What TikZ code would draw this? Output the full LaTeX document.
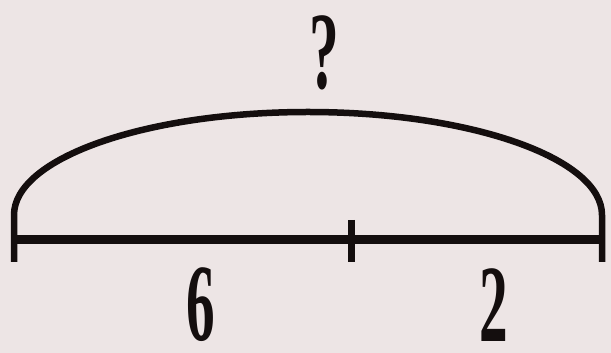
\documentclass[tikz,border=0pt]{standalone}
\usepackage{fontspec}
\setmainfont{Liberation Serif}
\definecolor{paper}{RGB}{237,229,229}
\definecolor{ink}{RGB}{20,14,14}

\begin{document}
\begin{tikzpicture}[x=1pt, y=1pt, every node/.style={inner sep=0pt, text=ink, font=\fontsize{110}{110}\selectfont\bfseries}, seg/.style={ink, line width=9pt}, tick/.style={ink, line width=7pt}]
	\fill[paper] (0,0) rectangle (611,353);
	\useasboundingbox (0,0) rectangle (611,353);
	\coordinate (L) at (14,113);
	\coordinate (M) at (351,113);
	\coordinate (R) at (602,113);
	\draw[seg] (L) -- (R);
	\draw[tick] (M) ++(0,20) -- ++(0,-42);
	\draw[ink, line width=6.5pt] (L) ++(0,-22) -- ++(0,47) arc[start angle=180, end angle=0, x radius=294, y radius=103] -- ++(0,-47);
	\node (q) at (324,300) {\scalebox{0.54}[1]{?}};
	\node (six) at (201,48) {\scalebox{0.52}[1]{6}};
	\node (two) at (494,48) {\scalebox{0.52}[1]{2}};
\end{tikzpicture}
\end{document}
